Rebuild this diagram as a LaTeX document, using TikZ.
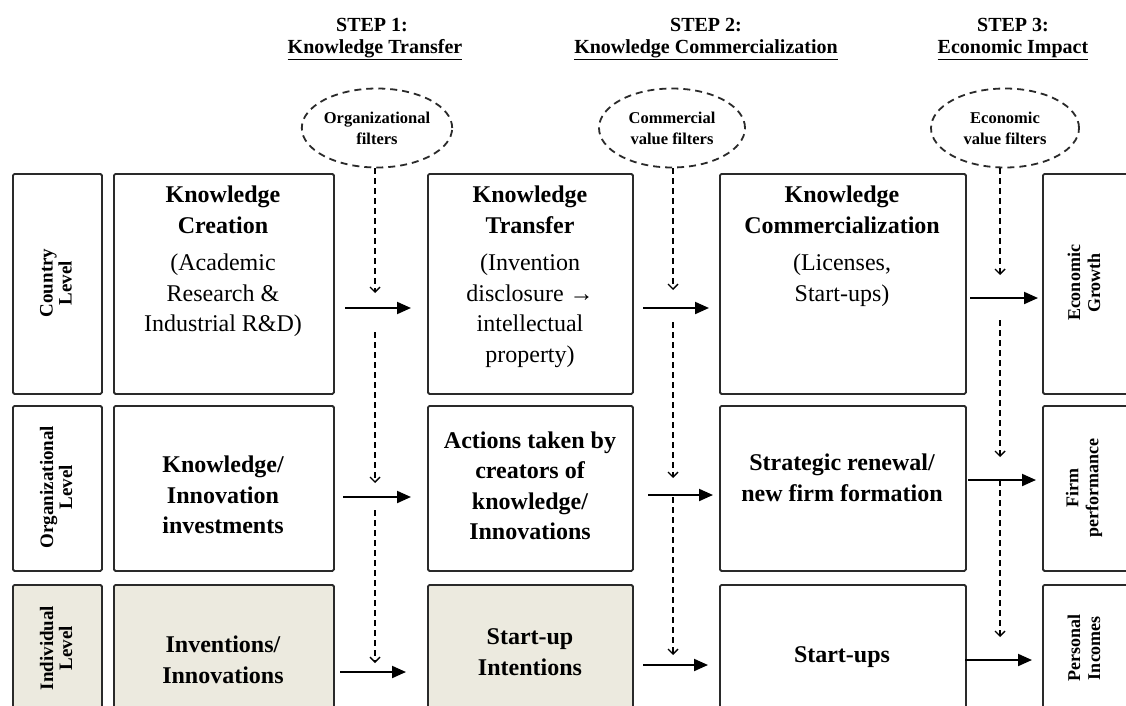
\documentclass[tikz,border=0pt]{standalone}
\usepackage{fontspec}
\setmainfont{Liberation Serif}
\usetikzlibrary{arrows.meta,shapes.geometric}

\definecolor{edge}{HTML}{2A2A2A}
\definecolor{shade}{HTML}{ECEADF}

\tikzset{
  box/.style={draw=edge, line width=1.8pt, rounded corners=1.5pt, inner sep=0pt,
    anchor=north west, fill=white},
  shaded/.style={box, fill=shade},
  head/.style={font=\fontsize{24}{30.5}\selectfont\bfseries, align=center, inner sep=0pt},
  body/.style={font=\fontsize{24}{30.5}\selectfont, align=center, inner sep=0pt},
  side/.style={font=\fontsize{19}{19}\selectfont\bfseries, align=center, inner sep=0pt, rotate=90},
  outcome/.style={font=\fontsize{18}{20}\selectfont\bfseries, align=center, inner sep=0pt, rotate=90},
  steptitle/.style={font=\fontsize{20}{24}\selectfont\bfseries, align=center, inner sep=0pt},
  filterbubble/.style={ellipse, draw=edge, line width=1.8pt, dash pattern=on 7pt off 5pt,
    minimum width=150pt, minimum height=79pt, inner sep=0pt,
    font=\fontsize{16.5}{21}\selectfont\bfseries, align=center},
  flow/.style={draw=black, line width=2pt, -{Triangle[length=14pt,width=12pt]}},
  filt/.style={draw=black, line width=1.6pt, dash pattern=on 6pt off 4pt,
    -{Straight Barb[length=5pt,width=10pt,line width=1.4pt]}}
}

\begin{document}
\begin{tikzpicture}[x=1pt,y=-1pt]
\useasboundingbox (0,0) rectangle (1126,706);
\clip (0,0) rectangle (1126,706);
\fill[white] (0,0) rectangle (1126,706);

% step titles
\node[steptitle] (s1) at (372,25) {STEP 1:};
\node[steptitle] (s1t) at (375,50) {\underline{Knowledge Transfer}};
\node[steptitle] (s2) at (706,25) {STEP 2:};
\node[steptitle] (s2t) at (706,50) {\underline{Knowledge Commercialization}};
\node[steptitle] (s3) at (1013,25) {STEP 3:};
\node[steptitle] (s3t) at (1013,50) {\underline{Economic Impact}};

% filter bubbles
\node[filterbubble] (e1) at (377,128) {Organizational\\filters};
\node[filterbubble, minimum width=146pt] (e2) at (672,128) {Commercial\\value filters};
\node[filterbubble, minimum width=148pt] (e3) at (1005,128) {Economic\\value filters};

% level column
\node[box, minimum width=89pt, minimum height=220pt] (lv1) at (12,173) {};
\node[box, minimum width=89pt, minimum height=165pt] (lv2) at (12,405) {};
\node[shaded, minimum width=89pt, minimum height=140pt] (lv3) at (12,584) {};
\node[side] (lv1t) at (56,283) {Country\\Level};
\node[side] (lv2t) at (56,487) {Organizational\\Level};
\node[side] (lv3t) at (56,648) {Individual\\Level};

% knowledge creation column
\node[box, minimum width=220pt, minimum height=220pt] (c11) at (113,173) {};
\node[box, minimum width=220pt, minimum height=165pt] (c12) at (113,405) {};
\node[shaded, minimum width=220pt, minimum height=140pt] (c13) at (113,584) {};
\node[head, anchor=north] (c11h) at (223,186) {Knowledge\\Creation};
\node[body, anchor=north] (c11b) at (223,254) {(Academic\\Research \&\\Industrial R\&D)};
\node[head] (c12t) at (223,495) {Knowledge/\\Innovation\\investments};
\node[head] (c13t) at (223,660) {Inventions/\\Innovations};

% knowledge transfer column
\node[box, minimum width=205pt, minimum height=220pt] (c21) at (427,173) {};
\node[box, minimum width=205pt, minimum height=165pt] (c22) at (427,405) {};
\node[shaded, minimum width=205pt, minimum height=140pt] (c23) at (427,584) {};
\node[head, anchor=north] (c21h) at (530,186) {Knowledge\\Transfer};
\node[body, anchor=north] (c21b) at (530,254) {(Invention\\disclosure →\\intellectual\\property)};
\node[head] (c22t) at (530,486) {Actions taken by\\creators of\\knowledge/\\Innovations};
\node[head] (c23t) at (530,652) {Start-up\\Intentions};

% commercialization column
\node[box, minimum width=246pt, minimum height=220pt] (c31) at (719,173) {};
\node[box, minimum width=246pt, minimum height=165pt] (c32) at (719,405) {};
\node[box, minimum width=246pt, minimum height=140pt] (c33) at (719,584) {};
\node[head, anchor=north] (c31h) at (842,186) {Knowledge\\Commercialization};
\node[body, anchor=north] (c31b) at (842,254) {(Licenses,\\Start-ups)};
\node[head] (c32t) at (842,478) {Strategic renewal/\\new firm formation};
\node[head] (c33t) at (842,657) {Start-ups};

% impact column
\node[box, minimum width=86pt, minimum height=220pt] (c41) at (1042,173) {};
\node[box, minimum width=86pt, minimum height=165pt] (c42) at (1042,405) {};
\node[box, minimum width=86pt, minimum height=140pt] (c43) at (1042,584) {};
\node[outcome] (c41t) at (1084,283) {Economic\\Growth};
\node[outcome] (c42t) at (1084,488) {Firm\\performance};
\node[outcome] (c43t) at (1084,648) {Personal\\Incomes};

% flow arrow end points
\coordinate (a11) at (345,308); \coordinate (a12) at (411,308);
\coordinate (a21) at (343,497); \coordinate (a22) at (411,497);
\coordinate (a31) at (340,672); \coordinate (a32) at (406,672);
\coordinate (b11) at (643,308); \coordinate (b12) at (709,308);
\coordinate (b21) at (648,495); \coordinate (b22) at (713,495);
\coordinate (b31) at (643,665); \coordinate (b32) at (708,665);
\coordinate (d11) at (970,298); \coordinate (d12) at (1038,298);
\coordinate (d21) at (968,480); \coordinate (d22) at (1036,480);
\coordinate (d31) at (965,660); \coordinate (d32) at (1032,660);

\draw[flow] (a11) -- (a12);
\draw[flow] (a21) -- (a22);
\draw[flow] (a31) -- (a32);
\draw[flow] (b11) -- (b12);
\draw[flow] (b21) -- (b22);
\draw[flow] (b31) -- (b32);
\draw[flow] (d11) -- (d12);
\draw[flow] (d21) -- (d22);
\draw[flow] (d31) -- (d32);

% filter lines
\coordinate (f1a) at (375,293);
\coordinate (f1b) at (375,332); \coordinate (f1c) at (375,483);
\coordinate (f1d) at (375,510); \coordinate (f1e) at (375,663);
\coordinate (f2a) at (673,290);
\coordinate (f2b) at (673,322); \coordinate (f2c) at (673,478);
\coordinate (f2d) at (673,497); \coordinate (f2e) at (673,655);
\coordinate (f3a) at (1000,275);
\coordinate (f3b) at (1000,320); \coordinate (f3c) at (1000,457);
\coordinate (f3d) at (1000,480); \coordinate (f3e) at (1000,637);

\draw[filt] (e1.south -| f1a) -- (f1a);
\draw[filt] (f1b) -- (f1c);
\draw[filt] (f1d) -- (f1e);
\draw[filt] (e2.south -| f2a) -- (f2a);
\draw[filt] (f2b) -- (f2c);
\draw[filt] (f2d) -- (f2e);
\draw[filt] (e3.south -| f3a) -- (f3a);
\draw[filt] (f3b) -- (f3c);
\draw[filt] (f3d) -- (f3e);
\end{tikzpicture}
\end{document}
